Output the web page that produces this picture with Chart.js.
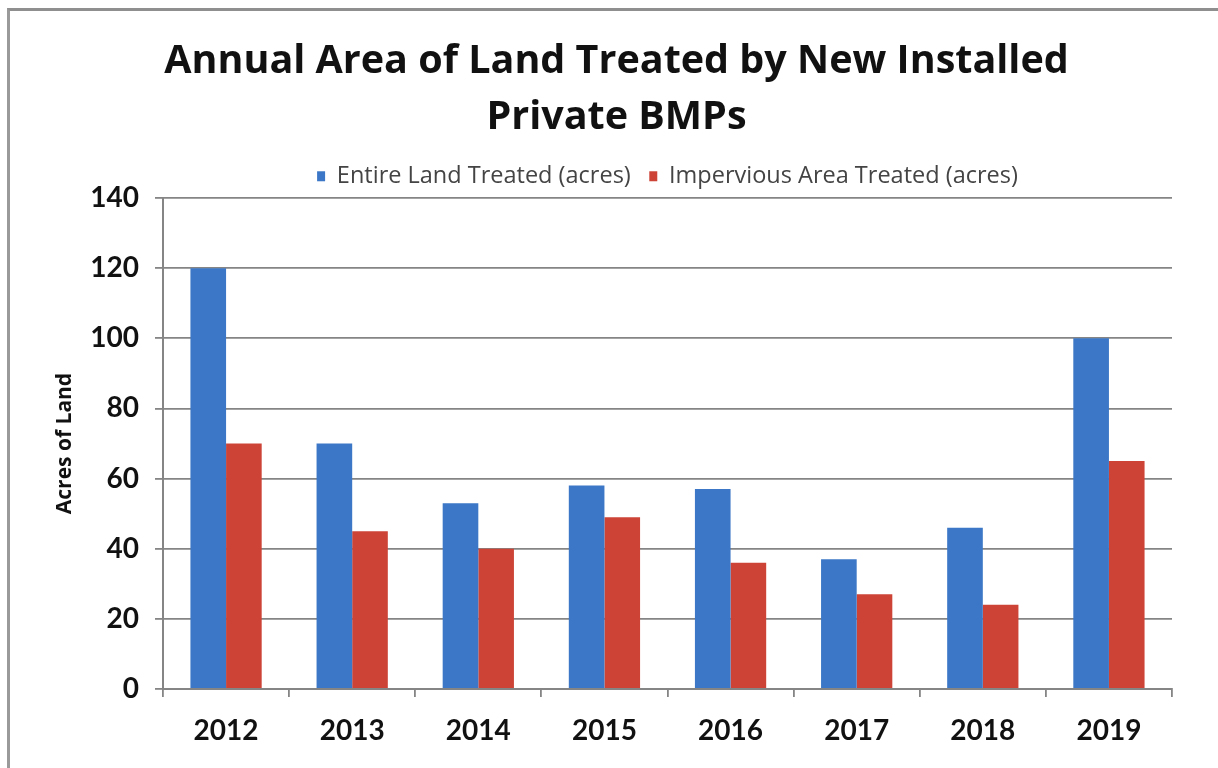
<!DOCTYPE html>
<html lang="en">
<head>
    <meta charset="UTF-8">
    <title>Annual Area of Land Treated by New Installed Private BMPs</title>
    <script src="https://cdn.jsdelivr.net/npm/chart.js"></script>
    <style>
        html, body {
            margin: 0;
            padding: 0;
            background: #ffffff;
        }
        .frame {
            position: relative;
            width: 1218px;
            height: 768px;
            overflow: hidden;
        }
        /* thin gray frame around the chart */
        .frame-edge {
            position: absolute;
            left: 7px;
            top: 8px;
            width: 1220px;
            height: 780px;
            border-top: 3px solid #8f8f8f;
            border-left: 3px solid #9a9a9a;
            pointer-events: none;
        }
        #bmpChart {
            position: absolute;
            left: 0;
            top: 0;
        }
    </style>
</head>
<body>
    <div class="frame">
        <canvas id="bmpChart" width="1218" height="768"></canvas>
        <div class="frame-edge"></div>
    </div>

    <script>
        // Data per year
        const years = ['2012', '2013', '2014', '2015', '2016', '2017', '2018', '2019'];
        const entireLand = [120, 70, 53, 58, 57, 37, 46, 100];
        const imperviousArea = [70, 45, 40, 49, 36, 27, 24, 65];
        const seriesNames = ['Entire Land Treated (acres)', 'Impervious Area Treated (acres)'];
        const yTicks = [0, 20, 40, 60, 80, 100, 120, 140];

        const gridGray = '#858585';

        const ctx = document.getElementById('bmpChart').getContext('2d');
        const chart = new Chart(ctx, {
            type: 'bar',
            data: {
                labels: years,
                datasets: [
                    {
                        label: seriesNames[0],
                        data: entireLand,
                        backgroundColor: '#3b77c6',
                        borderWidth: 0
                    },
                    {
                        label: seriesNames[1],
                        data: imperviousArea,
                        backgroundColor: '#cd4437',
                        borderWidth: 0
                    }
                ]
            },
            options: {
                responsive: false,
                animation: false,
                datasets: {
                    bar: { categoryPercentage: 0.565, barPercentage: 1.0 }
                },
                // left padding keeps the title centred on the page
                layout: { padding: { left: 61, right: 46, top: 0, bottom: 0 } },
                plugins: {
                    title: {
                        display: true,
                        text: ['Annual Area of Land Treated by New Installed', 'Private BMPs'],
                        color: '#111111',
                        font: { family: 'Open Sans', size: 39.5, weight: 'bold', lineHeight: 1.418 },
                        padding: { top: 34, bottom: 0 }
                    },
                    legend: {
                        display: true,
                        fullSize: false,
                        labels: {
                            color: '#444444',
                            font: { family: 'Open Sans', size: 23.5 },
                            boxWidth: 8,
                            boxHeight: 10,
                            padding: 18.5
                        }
                    },
                    tooltip: { enabled: false }
                },
                scales: {
                    x: {
                        grid: {
                            display: true,
                            drawOnChartArea: false,
                            drawTicks: true,
                            tickLength: 8,
                            color: gridGray,
                            lineWidth: 1.8
                        },
                        border: { display: true, color: gridGray, width: 2 },
                        ticks: {
                            color: '#111111',
                            font: { family: 'Lato', size: 28, weight: 'bold' },
                            padding: 17
                        },
                        afterFit: (scale) => { scale.height = 79; }
                    },
                    y: {
                        min: 0,
                        max: 140,
                        afterBuildTicks: (scale) => {
                            scale.ticks = yTicks.map(v => ({ value: v }));
                        },
                        grid: {
                            color: gridGray,
                            lineWidth: 1.8,
                            drawTicks: true,
                            tickLength: 8
                        },
                        border: { display: true, color: gridGray, width: 2 },
                        ticks: {
                            color: '#111111',
                            font: { family: 'Lato', size: 28, weight: 'bold' },
                            padding: 16
                        },
                        title: {
                            display: true,
                            text: 'Acres of Land',
                            color: '#111111',
                            font: { family: 'Open Sans', size: 21, weight: 'bold', lineHeight: 1.2 },
                            padding: { top: -9, bottom: 0 }
                        },
                        afterFit: (scale) => { scale.width = 102; }
                    }
                }
            }
        });
    </script>
</body>
</html>
